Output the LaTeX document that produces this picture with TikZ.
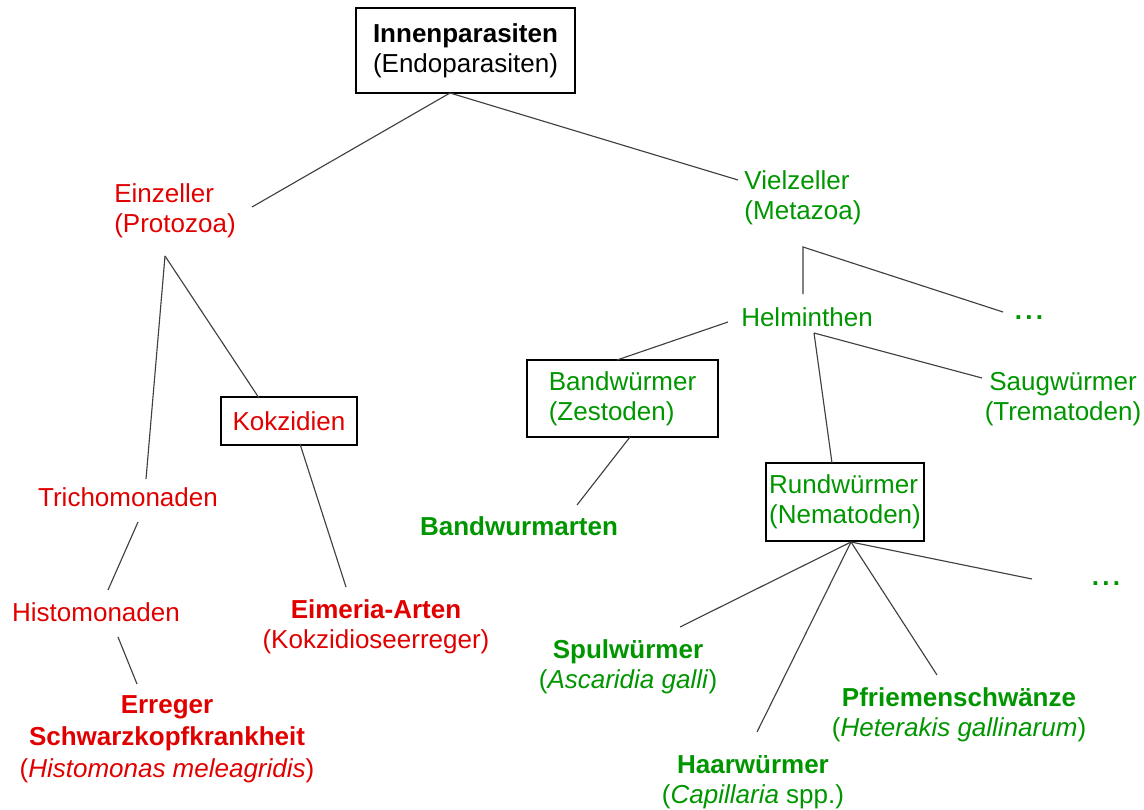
\documentclass[tikz,border=0pt]{standalone}
\usepackage{fontspec}
\setmainfont{Liberation Sans}
\usetikzlibrary{calc}
\definecolor{pred}{RGB}{225,0,0}
\definecolor{pgreen}{RGB}{0,150,0}
\newcommand{\mydots}{\textbf{.\hspace{2.5pt}.\hspace{2.5pt}.}}
\begin{document}
\begin{tikzpicture}[x=0.75pt,y=-0.75pt,
  txt/.style={font=\fontsize{19.5}{22.5}\selectfont, inner sep=0pt, align=center},
  ltxt/.style={txt, align=left},
  redtxt/.style={txt, text=pred},
  greentxt/.style={txt, text=pgreen},
  boxed/.style={draw=black, line width=1pt, fill=white},
  conn/.style={draw=black!75, line width=0.85pt}]
\useasboundingbox (0,0) rectangle (1144,809);
\fill[white] (0,0) rectangle (1144,809);

% ---------- nodes ----------
\node[boxed, ltxt, minimum width=164.25pt, minimum height=63.75pt] (top) at (465.5,50.5)
  {\textbf{Innenparasiten}\\(Endoparasiten)};

\node[redtxt, align=left] (einz) at (175,211) {Einzeller\\(Protozoa)};
\node[greentxt, align=left] (viel) at (803,198) {Vielzeller\\(Metazoa)};

\node[redtxt] (trich) at (128,497) {Trichomonaden};
\node[redtxt] (histo) at (96,612) {Histomonaden};
\node[redtxt, font=\fontsize{19.5}{24}\selectfont] (erreger) at (167,739)
  {\textbf{Erreger}\\\textbf{Schwarzkopfkrankheit}\\(\textit{Histomonas meleagridis})};
\node[boxed, redtxt, minimum width=102pt, minimum height=36pt] (kokz) at (289,421) {Kokzidien};
\node[redtxt] (eimeria) at (376,627) {\textbf{Eimeria-Arten}\\(Kokzidioseerreger)};

\node[greentxt] (helm) at (807,317) {Helminthen};
\node[greentxt] (dots1) at (1029,318) {\mydots};
\node[boxed, greentxt, align=left, minimum width=143.25pt, minimum height=57.75pt] (band) at (622.5,398.5)
  {Bandwürmer\\(Zestoden)};
\node[greentxt] (bandarten) at (519,526) {\textbf{Bandwurmarten}};
\node[greentxt] (saug) at (1063,399) {Saugwürmer\\(Trematoden)};
\node[boxed, greentxt, align=left, minimum width=118.5pt, minimum height=58.5pt] (rund) at (845,502)
  {Rundwürmer\\(Nematoden)};

\node[greentxt] (spul) at (628,667) {\textbf{Spulwürmer}\\(\textit{Ascaridia galli})};
\node[greentxt] (haar) at (753,782) {\textbf{Haarwürmer}\\(\textit{Capillaria} spp.)};
\node[greentxt] (pfriem) at (959,715) {\textbf{Pfriemenschwänze}\\(\textit{Heterakis gallinarum})};
\node[greentxt] (dots2) at (1106,584) {\mydots};

% ---------- connector end points ----------
\coordinate (top-o) at (450,93);
\coordinate (einz-i) at (252,207);
\coordinate (viel-i) at (738,180);
\coordinate (einz-o) at (165,256);
\coordinate (trich-i) at (146,479);
\coordinate (kokz-i) at (259,398);
\coordinate (trich-o) at (138,522);
\coordinate (histo-i) at (108,590);
\coordinate (histo-o) at (118,637);
\coordinate (erreger-i) at (137,684);
\coordinate (kokz-o) at (300,444);
\coordinate (eimeria-i) at (346,587);
\coordinate (viel-o) at (803,247);
\coordinate (helm-i) at (803,294);
\coordinate (dots1-i) at (1003,312);
\coordinate (helm-ol) at (728,322);
\coordinate (helm-o) at (814,333);
\coordinate (band-i) at (617,360);
\coordinate (rund-i) at (832,463);
\coordinate (saug-i) at (982,378);
\coordinate (band-o) at (630,437);
\coordinate (bandarten-i) at (577,505);
\coordinate (rund-o) at (851,542);
\coordinate (spul-i) at (680,627);
\coordinate (haar-i) at (757,732);
\coordinate (pfriem-i) at (937,675);
\coordinate (dots2-i) at (1032,579);

% ---------- connectors ----------
\draw[conn] (top-o) -- (einz-i);
\draw[conn] (top-o) -- (viel-i);
\draw[conn] (einz-o) -- (trich-i);
\draw[conn] (einz-o) -- (kokz-i);
\draw[conn] (trich-o) -- (histo-i);
\draw[conn] (histo-o) -- (erreger-i);
\draw[conn] (kokz-o) -- (eimeria-i);
\draw[conn] (helm-i) -- (viel-o) -- (dots1-i);
\draw[conn] (helm-ol) -- (band-i);
\draw[conn] (helm-o) -- (rund-i);
\draw[conn] (helm-o) -- (saug-i);
\draw[conn] (band-o) -- (bandarten-i);
\draw[conn] (rund-o) -- (spul-i);
\draw[conn] (rund-o) -- (haar-i);
\draw[conn] (rund-o) -- (pfriem-i);
\draw[conn] (rund-o) -- (dots2-i);
\end{tikzpicture}
\end{document}
